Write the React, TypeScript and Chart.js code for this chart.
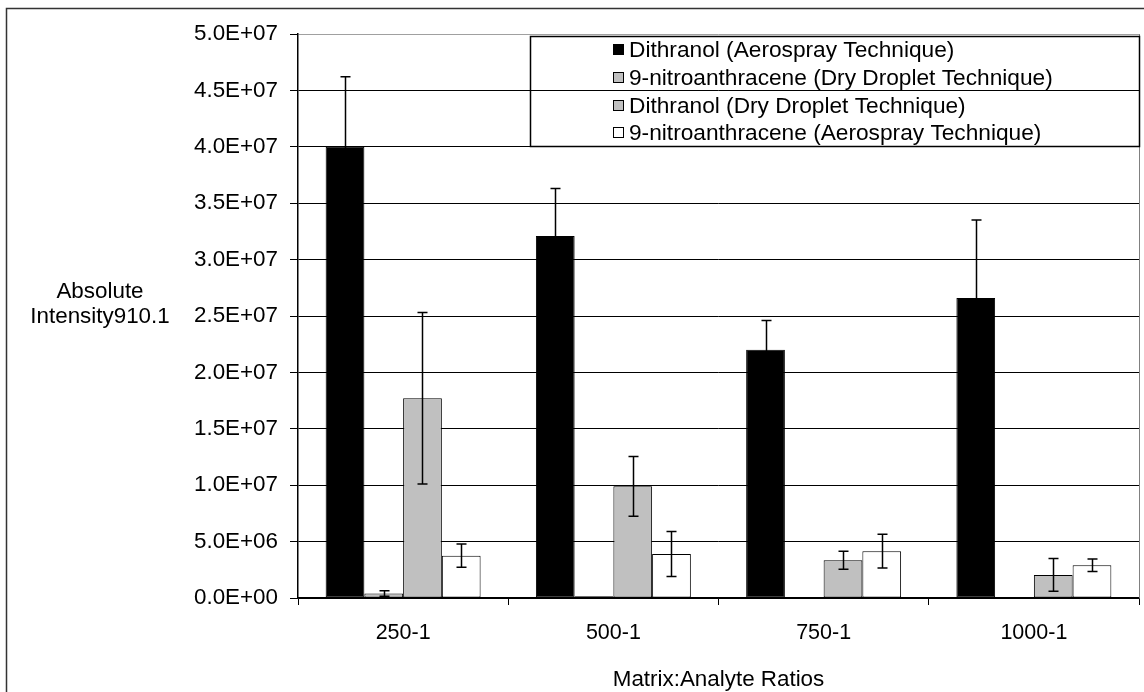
import React, { useEffect, useRef } from "react";
import { Chart, registerables } from "chart.js";

Chart.register(...registerables);

const categories = ["250-1", "500-1", "750-1", "1000-1"];
const seriesNames = [
  "Dithranol (Aerospray Technique)",
  "9-nitroanthracene (Dry Droplet Technique)",
  "Dithranol (Dry Droplet Technique)",
  "9-nitroanthracene (Aerospray Technique)",
];
const dithranolAero = [40.0e6, 32.1e6, 22.0e6, 26.6e6];
const dithranolAeroErr = [6.2e6, 4.2e6, 2.6e6, 6.9e6];
const nitroDry = [0.4e6, 0.15e6, 0, 0];
const nitroDryErr = [0.25e6, 0, 0, 0];
const dithranolDry = [17.7e6, 9.9e6, 3.35e6, 2.05e6];
const dithranolDryErr = [7.6e6, 2.65e6, 0.8e6, 1.45e6];
const nitroAero = [3.75e6, 3.9e6, 4.15e6, 2.9e6];
const nitroAeroErr = [1.03e6, 2.0e6, 1.5e6, 0.55e6];
const yTitleLines = ["Absolute", "Intensity910.1"];
const xTitle = "Matrix:Analyte Ratios";

const FONT = "'Liberation Sans', Arial, sans-serif";
const colors = ["#000000", "#c0c0c0", "#c0c0c0", "#ffffff"];
const errs = [dithranolAeroErr, nitroDryErr, dithranolDryErr, nitroAeroErr];

function fmtExp(v: number): string {
  if (v === 0) return "0.0E+00";
  const e = Math.floor(Math.log10(v) + 1e-9);
  const m = v / Math.pow(10, e);
  return m.toFixed(1) + "E+" + (e < 10 ? "0" + e : String(e));
}

const decorPlugin = {
  id: "decor",
  beforeDraw(chart: any) {
    const ctx = chart.ctx;
    ctx.save();
    ctx.fillStyle = "#ffffff";
    ctx.fillRect(0, 0, chart.width, chart.height);
    ctx.strokeStyle = "#333";
    ctx.lineWidth = 1.5;
    ctx.strokeRect(6.5, 8.5, chart.width + 10, chart.height + 10);
    ctx.restore();
  },
  afterDatasetsDraw(chart: any) {
    const ctx = chart.ctx;
    const y = chart.scales.y;
    ctx.save();
    ctx.strokeStyle = "#000";
    ctx.lineWidth = 1.5;
    chart.data.datasets.forEach((ds: any, i: number) => {
      const meta = chart.getDatasetMeta(i);
      meta.data.forEach((bar: any, j: number) => {
        const v = ds.data[j];
        const e = errs[i][j];
        if (!e) return;
        const x = Math.round(bar.x) + 0.5;
        const top = y.getPixelForValue(v + e);
        const bot = y.getPixelForValue(Math.max(0, v - e));
        ctx.beginPath();
        ctx.moveTo(x, top);
        ctx.lineTo(x, bot);
        ctx.moveTo(x - 5, top);
        ctx.lineTo(x + 5, top);
        ctx.moveTo(x - 5, bot);
        ctx.lineTo(x + 5, bot);
        ctx.stroke();
      });
    });
    ctx.restore();
  },
  afterDraw(chart: any) {
    const ctx = chart.ctx;
    const a = chart.chartArea;
    ctx.save();
    // right border of plot
    ctx.strokeStyle = "#808080";
    ctx.lineWidth = 1;
    ctx.beginPath();
    ctx.moveTo(Math.round(a.right) + 0.5, a.top);
    ctx.lineTo(Math.round(a.right) + 0.5, a.bottom);
    ctx.stroke();
    // legend
    const lx = 530.5, ly = 36.5, lw = 609, lh = 110;
    ctx.strokeStyle = "#000";
    ctx.lineWidth = 1.5;
    ctx.strokeRect(lx, ly, lw, lh);
    ctx.font = "22.7px " + FONT;
    ctx.textBaseline = "middle";
    ctx.textAlign = "left";
    const rows = [50, 78, 106, 133];
    seriesNames.forEach((name, i) => {
      ctx.fillStyle = colors[i];
      ctx.fillRect(613, rows[i] - 6, 11, 11);
      ctx.strokeStyle = "#000";
      ctx.lineWidth = 1;
      ctx.strokeRect(613.5, rows[i] - 5.5, 10, 10);
      ctx.fillStyle = "#000";
      ctx.fillText(name, 629, rows[i] + 1);
    });
    // axis titles
    ctx.font = "22.4px " + FONT;
    ctx.textAlign = "center";
    ctx.fillText(yTitleLines[0], 100, 292);
    ctx.fillText(yTitleLines[1], 100, 317);
    ctx.fillText(xTitle, (a.left + a.right) / 2, 680);
    ctx.restore();
  },
};

export default function App() {
  const ref = useRef<HTMLCanvasElement>(null);
  useEffect(() => {
    if (!ref.current) return;
    const mk = (label: string, data: number[], color: string) => ({
      label,
      data,
      backgroundColor: color,
      borderColor: "#000",
      borderWidth: 1,
      borderSkipped: false,
      categoryPercentage: 0.737,
      barPercentage: 1.0,
    });
    const chart = new Chart(ref.current, {
      type: "bar",
      data: {
        labels: categories,
        datasets: [
          mk(seriesNames[0], dithranolAero, colors[0]),
          mk(seriesNames[1], nitroDry, colors[1]),
          mk(seriesNames[2], dithranolDry, colors[2]),
          mk(seriesNames[3], nitroAero, colors[3]),
        ],
      },
      options: {
        animation: false,
        responsive: true,
        maintainAspectRatio: false,
        layout: { padding: { top: 34, right: 5, bottom: 0, left: 0 } },
        plugins: { legend: { display: false }, tooltip: { enabled: false } },
        scales: {
          x: {
            afterFit(scale: any) {
              scale.height = 94;
            },
            grid: {
              offset: true,
              drawOnChartArea: false,
              drawTicks: true,
              tickLength: 7,
              tickColor: "#000",
            },
            border: { display: true, color: "#000", width: 1.5 },
            ticks: {
              color: "#000",
              font: { family: FONT, size: 21.5 },
              padding: 15,
              maxRotation: 0,
            },
          },
          y: {
            min: 0,
            max: 5e7,
            afterFit(scale: any) {
              scale.width = 298;
            },
            grid: {
              color: (c: any) => (c.tick && c.tick.value === 5e7 ? "#a0a0a0" : "#000"),
              tickColor: "#000",
              tickLength: 8,
              lineWidth: 1,
            },
            border: { display: true, color: "#000", width: 1.5 },
            ticks: {
              stepSize: 5e6,
              color: "#000",
              font: { family: FONT, size: 22.4 },
              padding: 12,
              callback: (v: any) => fmtExp(Number(v)),
            },
          },
        },
      },
      plugins: [decorPlugin],
    });
    return () => chart.destroy();
  }, []);
  return (
    <div style={{ position: "fixed", left: 0, top: 0, width: 1144, height: 692 }}>
      <canvas ref={ref} />
    </div>
  );
}
